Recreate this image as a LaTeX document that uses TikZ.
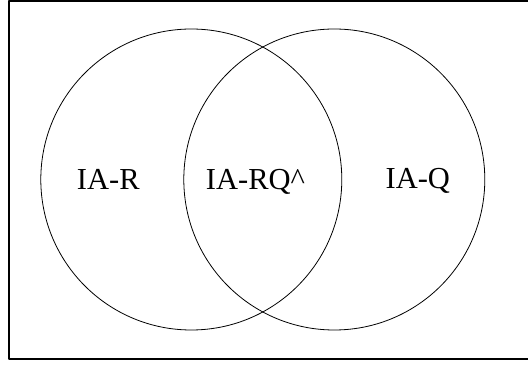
\documentclass[tikz,border=0pt]{standalone}
\usepackage{fontspec}
\setmainfont{Liberation Serif}
\begin{document}
\begin{tikzpicture}[x=1pt, y=1pt, line join=round]
        \tikzset{
            setcircle/.style={draw, circle, line width=0.8pt, minimum size=301pt, inner sep=0pt},
            setlabel/.style={font=\fontsize{30.5}{32}\selectfont, anchor=base, inner sep=0pt}
        }
        \useasboundingbox (0, 0) rectangle (528, 367);
        % outer frame (right side runs past the page)
        \draw[line width=2.4pt] (9, 8) rectangle (545, 366);
        % the two sets
        \node[setcircle] (setR) at (191.3, 187.5) {};
        \node[setcircle] (setQ) at (334.3, 187.5) {};
        % region labels
        \node[setlabel] (labR)  at (108.3, 177.5) {IA-R};
        \node[setlabel] (labRQ) at (255.5, 177.5) {IA-RQ\textasciicircum};
        \node[setlabel] (labQ)  at (417.8, 178.5) {IA-Q};
    \end{tikzpicture}
\end{document}
